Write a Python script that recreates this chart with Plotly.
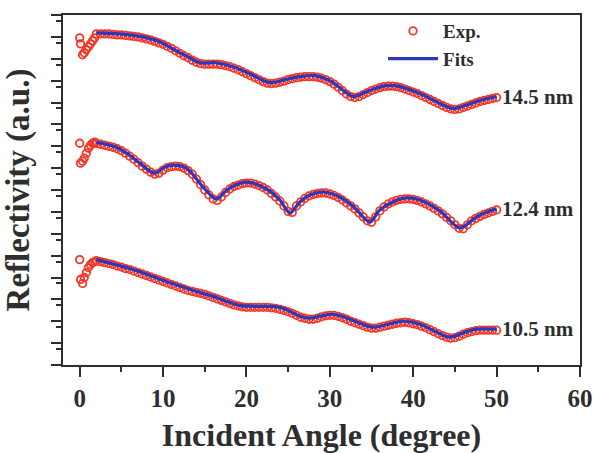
import plotly.graph_objects as go

# ---------------- data ----------------
exp_x_low = [0.0, 0.1, 0.35, 0.55, 0.8, 1.05, 1.3, 1.55, 1.8]
exp_x = [2.0 + 0.5 * i for i in range(97)]  # measurement angles 2.0 ... 50.0

# 14.5 nm
exp_145_low = [329, 323, 312, 314, 317, 320, 323, 326, 329]
exp_145 = [333, 333, 333, 333, 332.5, 332, 332, 331.5, 331, 330.5,
           330, 329, 328, 327, 325.5, 324, 322.5, 320.5, 318.5, 316,
           313.5, 311, 309, 306.5, 304.5, 303, 302.5, 302.5, 302.5, 302.5,
           302, 301, 300, 298.5, 297, 295, 293, 291, 289, 287,
           285, 283.5, 283, 283.5, 284.5, 285.5, 287, 288, 289, 289.5,
           290, 290, 290, 289.5, 288.5, 287, 285, 282.5, 279.5, 276,
           272.5, 270, 269, 270, 272, 274, 276, 277.5, 279, 280,
           280.5, 280.5, 280, 279, 277.5, 276, 274.5, 273, 271, 269,
           267, 265, 263, 261, 259, 257.5, 257, 257.5, 259, 260.5,
           262, 263.5, 265, 266, 267, 268, 269]
fit_145_x = [2.0, 4.8, 7.6, 9.6, 11.6, 13.2, 14.4, 16.4, 18.4, 20.4, 22.8, 24.6, 26.4, 28.2,
             30.0, 31.8, 32.8, 34.2, 35.4, 36.8, 38.4, 40.8, 43.2, 44.8, 46.2, 48.0, 50.0]
fit_145_y = [334, 333, 330, 325, 316, 309, 304, 304, 300, 293, 284, 287, 290, 291,
             286, 275, 270, 274, 278, 281, 280, 273, 263, 258, 261, 266, 270]

# 12.4 nm
exp_124_low = [223, 203, 205, 208, 213, 218, 221, 223, 224]
exp_124 = [223, 222, 221, 220, 219, 217.5, 215.5, 213, 210, 207,
           203.5, 200, 197, 194, 192, 193, 196, 198.5, 199.5, 200,
           199.5, 198, 195.5, 192, 187, 181.5, 176, 171, 167, 165.5,
           169, 173.5, 177, 179.5, 181, 182.5, 183, 183, 182, 180.5,
           178.5, 176, 172.5, 169, 165, 160, 154.5, 153.5, 160, 164,
           167.5, 170, 171.5, 172.5, 173, 173, 172, 170.5, 168.5, 166,
           163, 160, 157, 153, 149, 145, 143.5, 149, 155, 159,
           162, 164, 165.5, 166.5, 167, 167, 166.5, 165.5, 164, 162,
           160, 157.5, 155, 152, 148.5, 145, 141, 137.5, 137, 141,
           145, 147.5, 149.5, 151.5, 153, 154.5, 156]
fit_124_x = [2.0, 4.4, 6.0, 7.2, 9.0, 10.2, 11.2, 12.8, 14.8, 16.4, 17.4, 18.4, 20.0, 22.4,
             24.0, 25.2, 26.4, 27.6, 29.2, 31.2, 33.0, 34.8, 36.0, 37.8, 39.2, 40.8, 43.2,
             45.6, 47.4, 48.6, 50.0]
fit_124_y = [224, 219, 211, 203, 193, 199, 201, 198, 179, 167, 174, 180, 184, 177,
             166, 153, 164, 171, 174, 169, 158, 144, 156, 165, 168, 166, 155,
             138, 148, 153, 157]

# 10.5 nm
exp_105_low = [106, 86, 82, 88, 93, 98, 101, 103, 104]
exp_105 = [105, 104, 103, 102, 101, 99.5, 98.5, 97, 96, 94.5,
           93, 91.5, 90, 88.5, 87, 85.5, 84, 82.5, 81, 79.5,
           78, 76.5, 75, 74, 73, 72, 71, 69.5, 68, 66.5,
           65, 63.5, 62, 60.5, 59.5, 58.5, 58, 58, 58, 58,
           58, 58, 57.5, 57, 56, 55, 53.5, 52, 50, 48,
           47, 46, 46, 47, 48.5, 49.5, 50, 50, 49, 47.5,
           46, 44, 42.5, 41, 39.5, 38, 37, 37, 38, 39,
           40, 41, 42, 42.5, 43, 42.5, 41.5, 40.5, 39, 37.5,
           35.5, 33.5, 31.5, 29.5, 28, 27, 27.5, 29, 31, 32.5,
           33.5, 34.5, 35, 35, 35, 35, 35]
fit_105_x = [2.0, 6.4, 10.4, 14.4, 16.0, 19.2, 21.2, 24.0, 25.2, 26.4, 27.6, 28.8, 30.4,
             31.8, 33.6, 35.2, 37.0, 38.8, 40.8, 42.6, 44.4, 46.2, 47.6, 50.0]
fit_105_y = [106, 96, 84, 73, 69, 60, 59, 58, 54, 49, 47, 49, 51,
             48, 42, 38, 41, 44, 41, 34, 28, 33, 36, 36]

labels = ["14.5 nm", "12.4 nm", "10.5 nm"]
x_ticks = [0, 10, 20, 30, 40, 50, 60]
y_major = [0, 22, 44, 66, 88, 110, 132, 154, 176, 198, 220, 242, 264, 286, 308, 330, 352]
y_minor = [v - 6 for v in y_major if v > 0]

# ---------------- figure ----------------
FONT = "Liberation Serif, Times New Roman, serif"
RED = "rgb(245,55,40)"
BLUE = "rgb(45,55,185)"
INK = "#2e2e2e"

fig = go.Figure()
series = [(exp_145_low, exp_145, fit_145_x, fit_145_y),
          (exp_124_low, exp_124, fit_124_x, fit_124_y),
          (exp_105_low, exp_105, fit_105_x, fit_105_y)]
for i, (lo, ev, fx, fy) in enumerate(series):
    fig.add_trace(go.Scatter(
        x=exp_x_low + exp_x, y=lo + ev, mode="markers", name="<b>Exp.</b>",
        showlegend=(i == 0), legendrank=1,
        marker=dict(symbol="circle-open", size=7.5, color=RED, line=dict(width=1.8, color=RED)),
        cliponaxis=False))
for i, (lo, ev, fx, fy) in enumerate(series):
    fig.add_trace(go.Scatter(
        x=fx, y=fy, mode="lines", name="<b>Fits</b>", line_shape="spline",
        showlegend=(i == 0), legendrank=2,
        line=dict(color=BLUE, width=3.2)))
    fig.add_annotation(x=fx[-1], y=fy[-1], text="<b>%s</b>" % labels[i], showarrow=False,
                       xanchor="left", yanchor="middle", xshift=3,
                       font=dict(family=FONT, size=21, color=INK))

# short (minor) y ticks on an overlaying axis
fig.add_trace(go.Scatter(x=[None], y=[None], yaxis="y2", showlegend=False, hoverinfo="skip"))

fig.update_layout(
    width=594, height=453,
    margin=dict(l=63, r=14, t=13, b=88),
    paper_bgcolor="white", plot_bgcolor="white",
    font=dict(family=FONT, color=INK),
    showlegend=True,
    legend=dict(x=0.619, y=1.0085, xanchor="left", yanchor="top",
                bgcolor="rgba(0,0,0,0)", itemwidth=50, tracegroupgap=0,
                font=dict(family=FONT, size=19, color=INK)),
    xaxis=dict(range=[-2, 60], tickvals=x_ticks, ticktext=["<b>%d</b>" % v for v in x_ticks],
               ticks="outside", ticklen=10, tickwidth=2, tickcolor=INK,
               minor=dict(dtick=5, ticks="outside", ticklen=5, tickwidth=2, tickcolor=INK),
               showline=True, linewidth=2, linecolor=INK, mirror=True,
               showgrid=False, zeroline=False, automargin=False,
               ticklabeloverflow="allow",
               tickfont=dict(family=FONT, size=25, color=INK),
               title=dict(text="<b>Incident Angle (degree)</b>", standoff=14,
                          font=dict(family=FONT, size=32, color=INK))),
    yaxis=dict(range=[0, 352], tickvals=y_major, showticklabels=False,
               ticks="outside", ticklen=10, tickwidth=2, tickcolor=INK,
               showline=True, linewidth=2, linecolor=INK, mirror=True,
               showgrid=False, zeroline=False, automargin=False,
               title=dict(text="<b>Reflectivity (a.u.)</b>", standoff=11,
                          font=dict(family=FONT, size=33, color=INK))),
    yaxis2=dict(range=[0, 352], overlaying="y", side="left", tickvals=y_minor,
                showticklabels=False, ticks="outside", ticklen=6, tickwidth=2,
                tickcolor=INK, showline=False, showgrid=False, zeroline=False,
                automargin=False),
)

# remove the default page margin so the 594x453 figure fills the window exactly
fig.write_html("out.html", config={"displayModeBar": False},
               post_script="document.body.style.margin='0';document.body.style.overflow='hidden';")
